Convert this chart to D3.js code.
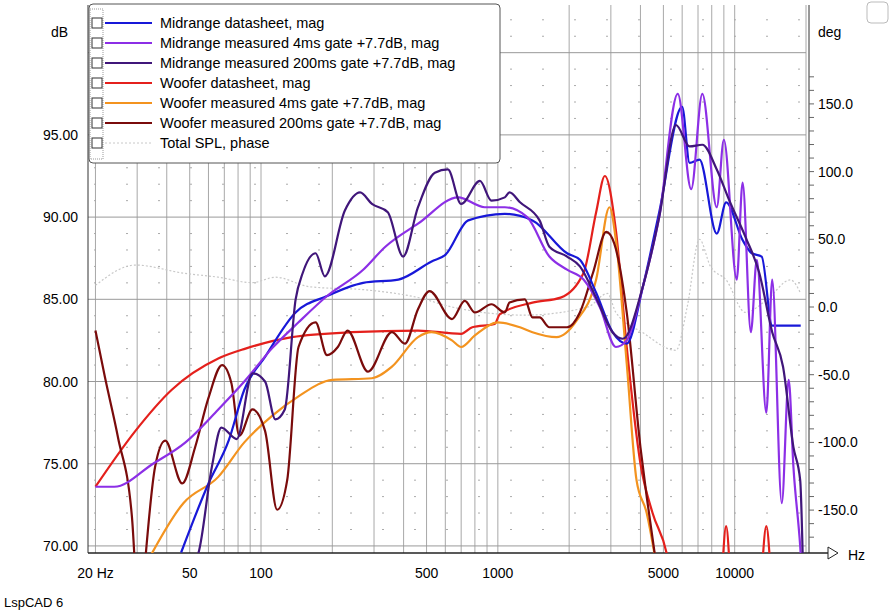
<!DOCTYPE html>
<html><head><meta charset="utf-8">
<script src="https://cdn.jsdelivr.net/npm/d3@7"></script>
<style>
body{margin:0;background:#fff;font-family:"Liberation Sans",Arial,sans-serif;}
text{font-family:"Liberation Sans",Arial,sans-serif;}
</style></head><body><div id="chart"></div>
<script>
// [Hz, dB]
var midDatasheet = [[46,69.6],[60,73.8],[73,76.4],[85,79.5],[104,81.5],[140,84.2],[190,85.2],[270,86],[380,86.2],[525,87.3],[600,87.7],[750,89.8],[1070,90.2],[1400,89.8],[1960,87.8],[2220,87.4],[2600,85.4],[3050,83],[3500,82.3],[4100,85.8],[4800,90.3],[6000,96.7],[6450,93.3],[7100,93.5],[8400,89],[9200,90.9],[10800,88.6],[11800,87.8],[13000,87.6],[14400,83.4],[19000,83.4]];
var mid4ms = [[20,73.6],[24,73.6],[35,75],[48,76.3],[66,78.3],[85,80],[111,82],[144,83.6],[190,85.2],[270,86.8],[335,88.2],[460,89.6],[680,91.2],[880,90.6],[1070,90.6],[1330,90],[1650,87.6],[1960,86.8],[2300,86.2],[2700,84.5],[3150,82.1],[3500,82.5],[4100,85.8],[4800,90],[5750,97.5],[6550,91.7],[7300,97.5],[8400,90.6],[9000,94.7],[10200,86.2],[10800,92.1],[11700,83],[12400,87.4],[13600,78.1],[14400,86.2],[15800,72.6],[16900,80.1],[17700,74.8],[18900,70],[19300,68]];
var mid200ms = [[47,68],[54.5,69.6],[62,74.8],[68,77.2],[79,76.5],[92,80.5],[104,80],[115,77.7],[126,78.3],[140,85],[150,86.6],[170,87.8],[186,86.4],[226,90.4],[262,91.5],[294,90.8],[343,90.3],[398,87.6],[460,90.6],[542,92.7],[615,92.9],[700,90.8],[840,92.2],[940,91],[1070,91.2],[1120,91.5],[1240,90.9],[1500,89.8],[1650,88.2],[1960,87.6],[2220,87],[2600,85.1],[3050,83],[3370,82.6],[4100,85.8],[4800,90],[5650,95.6],[6450,94.3],[7300,94.4],[8400,92.9],[9500,91],[11100,88.8],[12700,86.6],[14400,83],[16000,80.9],[17700,76],[18900,74],[19400,69]];
var wooDatasheet = [[20,73.6],[29.5,77],[42,79.5],[66,81.4],[86,82],[135,82.7],[242,83],[460,83.1],[700,82.9],[780,83.3],[970,83.5],[1020,84.1],[1400,84.8],[1840,85.1],[2300,86.6],[2600,90.3],[2830,92.5],[3150,89.2],[3500,82.1],[4000,75],[4500,72],[5150,69.6],[5400,68],
  null,[8900,69],[9200,71.2],[9500,69],null,[13100,69],[13600,71.2],[14100,69]];
var woo4ms = [[33,69],[47,72.6],[66,74.2],[85,76.3],[111,77.9],[144,79.1],[200,80.1],[294,80.2],[357,80.9],[460,82.7],[525,83],[640,82.5],[700,82.1],[800,82.8],[1000,83.6],[1240,83.3],[1400,83],[1770,82.7],[2150,83.7],[2600,86.2],[2960,90.6],[3150,88.6],[3500,81.1],[3850,74],[4250,72],[4650,69]];
var woo200ms = [[20,83.1],[21.9,80.3],[24.9,76.6],[28.5,71.8],[29.3,69],null,[32.4,69],[35.7,74.8],[39.4,76.4],[46.5,73.8],[52.7,76],[60,79],[68.5,81],[75,79.9],[81,76.7],[92,78.3],[104,77],[117,72.2],[129,74],[144,82.1],[170,83.6],[190,81.6],[211,82.1],[232,83.1],[283,80.6],[357,83],[405,82.3],[460,84.4],[515,85.5],[640,83.8],[725,84.9],[800,84.2],[940,84.7],[1070,84.2],[1120,84.8],[1300,85],[1400,83.9],[1500,83.9],[1650,83.3],[1960,83.3],[2220,84.2],[2520,86.6],[2870,89.1],[3100,88.4],[3500,84.2],[4000,76],[4250,73],[4650,69]];
// [Hz, deg]
var totalPhase = [[20,16],[29.5,31],[47,25],[66,22],[92,18],[115,22],[160,15],[283,12.5],[460,7],[640,0],[1300,-6],[2400,0],[2900,10],[3150,-4],[4100,-19],[5650,-32],[6300,0],[7100,50],[7900,30],[9200,20],[11100,-4],[13600,5],[17200,20],[19000,10]];

var seriesNames = ["Midrange datasheet, mag","Midrange measured 4ms gate +7.7dB, mag","Midrange measured 200ms gate +7.7dB, mag","Woofer datasheet, mag","Woofer measured 4ms gate +7.7dB, mag","Woofer measured 200ms gate +7.7dB, mag","Total SPL, phase"];
var seriesColors = ["#1818d8","#8c2fe6","#40167a","#e4201c","#f3931f","#7a0b0b","#c8c8c8"];
var seriesData = [midDatasheet, mid4ms, mid200ms, wooDatasheet, woo4ms, woo200ms, totalPhase];
var freqTicks = [20,50,100,500,1000,5000,10000];
var freqGrid = [20,30,40,50,60,70,80,90,100,200,300,400,500,600,700,800,900,1000,2000,3000,4000,5000,6000,7000,8000,9000,10000,20000];
var dbTicks = [70,75,80,85,90,95];
var degTicks = [-150,-100,-50,0,50,100,150];

var W = 895, H = 616, L = 88, R = 806, T = 5, B = 553;
var svg = d3.select("#chart").append("svg").attr("width", W).attr("height", H);
var x = d3.scaleLog().domain([18.6, 20000]).range([L, R]);
var y = d3.scaleLinear().domain([69.57, 102.9]).range([B, T]);
var yd = d3.scaleLinear().domain([0, 50]).range([307, 239.3]);

svg.append("clipPath").attr("id", "clip").append("rect").attr("x", L).attr("y", T).attr("width", R - L).attr("height", B - T);

// grid
svg.append("g").selectAll("line").data(d3.range(70, 103)).join("line")
  .filter(function (d) { return d % 5 != 0; })
  .attr("x1", L).attr("x2", R).attr("y1", y).attr("y2", y)
  .attr("stroke", "#aaa").attr("stroke-dasharray", "2,30").attr("stroke-dashoffset", -6);
svg.append("g").selectAll("line").data(freqGrid).join("line")
  .attr("x1", x).attr("x2", x).attr("y1", T).attr("y2", B).attr("stroke", "#a8a8a8");
svg.append("g").selectAll("line").data([70,75,80,85,90,95,100]).join("line")
  .attr("x1", L).attr("x2", R).attr("y1", y).attr("y2", y).attr("stroke", "#999");

// axes
svg.append("line").attr("x1", L).attr("x2", L).attr("y1", T).attr("y2", B).attr("stroke", "#333");
svg.append("line").attr("x1", R + 3).attr("x2", R + 3).attr("y1", T).attr("y2", B).attr("stroke", "#333");
svg.append("line").attr("x1", L).attr("x2", 828).attr("y1", B).attr("y2", B).attr("stroke", "#222").attr("stroke-width", 1.5);
svg.append("path").attr("d", "M828,547 L838,553 L828,559 Z").attr("fill", "#fff").attr("stroke", "#222");
svg.append("g").selectAll("line").data(d3.range(-170, 171, 10)).join("line")
  .attr("x1", R + 3).attr("x2", R + 8).attr("y1", yd).attr("y2", yd).attr("stroke", "#666");

svg.append("g").selectAll("text").data(dbTicks).join("text")
  .attr("x", 78).attr("y", function (d) { return y(d) + 5; }).attr("text-anchor", "end")
  .attr("font-size", 14).text(function (d) { return d.toFixed(2); });
svg.append("g").selectAll("text").data(degTicks).join("text")
  .attr("x", 818).attr("y", function (d) { return yd(d) + 5; })
  .attr("font-size", 14).text(function (d) { return d.toFixed(1); });
svg.append("g").selectAll("text").data(freqTicks).join("text")
  .attr("x", x).attr("y", 578).attr("text-anchor", "middle")
  .attr("font-size", 14).text(function (d) { return d == 20 ? "20 Hz" : d; });
svg.append("text").attr("x", 51).attr("y", 37).attr("font-size", 14).text("dB");
svg.append("text").attr("x", 818).attr("y", 37).attr("font-size", 14).text("deg");
svg.append("text").attr("x", 848).attr("y", 560).attr("font-size", 14).text("Hz");
svg.append("text").attr("x", 4).attr("y", 607).attr("font-size", 13).text("LspCAD 6");
svg.append("rect").attr("x", 867).attr("y", 2).attr("width", 21).attr("height", 21).attr("rx", 4)
  .attr("fill", "#fff").attr("stroke", "#bbb");

// curves
var plot = svg.append("g").attr("clip-path", "url(#clip)");
var lineDb = d3.line().defined(function (d) { return d; }).x(function (d) { return x(d[0]); }).y(function (d) { return y(d[1]); }).curve(d3.curveMonotoneX);
var lineDeg = d3.line().x(function (d) { return x(d[0]); }).y(function (d) { return yd(d[1]); }).curve(d3.curveMonotoneX);
plot.append("path").attr("d", lineDeg(totalPhase)).attr("fill", "none")
  .attr("stroke", seriesColors[6]).attr("stroke-width", 1.2).attr("stroke-dasharray", "2,2");
[3, 4, 5, 0, 1, 2].forEach(function (i) {
  plot.append("path").attr("d", lineDb(seriesData[i])).attr("fill", "none")
    .attr("stroke", seriesColors[i]).attr("stroke-width", 2.2).attr("stroke-linejoin", "round");
});

// legend
var lg = svg.append("g");
lg.append("rect").attr("x", 89).attr("y", 4).attr("width", 411).attr("height", 159).attr("rx", 4)
  .attr("fill", "#fff").attr("stroke", "#555");
lg.append("rect").attr("x", 90).attr("y", 9).attr("width", 13).attr("height", 150)
  .attr("fill", "none").attr("stroke", "#999").attr("stroke-dasharray", "1,1");
var item = lg.selectAll("g.item").data(seriesNames).join("g").attr("class", "item")
  .attr("transform", function (d, i) { return "translate(0," + (24 + i * 20) + ")"; });
item.append("rect").attr("x", 92).attr("y", -6).attr("width", 10).attr("height", 10)
  .attr("fill", "#fff").attr("stroke", "#333");
item.append("line").attr("x1", 105).attr("x2", 152).attr("y1", -1).attr("y2", -1)
  .attr("stroke", function (d, i) { return seriesColors[i]; })
  .attr("stroke-width", function (d, i) { return i == 6 ? 1 : 2.2; })
  .attr("stroke-dasharray", function (d, i) { return i == 6 ? "2,2" : null; });
item.append("text").attr("x", 160).attr("y", 4).attr("font-size", 14.5).text(function (d) { return d; });
</script></body></html>
